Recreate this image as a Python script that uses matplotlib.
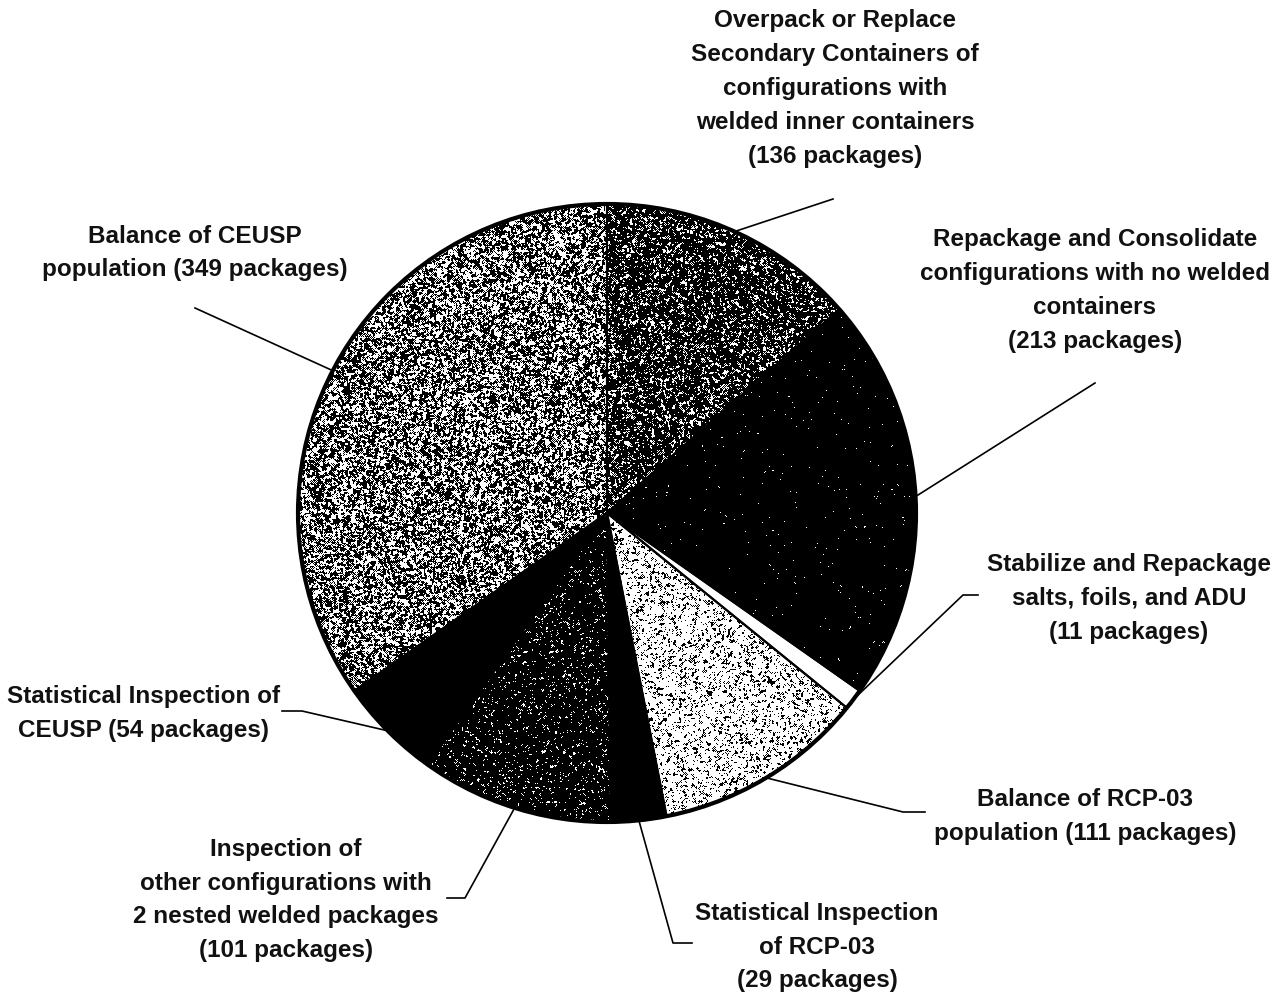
import numpy as np
import matplotlib
matplotlib.use("Agg")
import matplotlib.pyplot as plt

# ---- data ----
labels = [
    "Overpack or Replace\nSecondary Containers of\nconfigurations with\nwelded inner containers\n(136 packages)",
    "Repackage and Consolidate\nconfigurations with no welded\ncontainers\n(213 packages)",
    "Stabilize and Repackage\nsalts, foils, and ADU\n(11 packages)",
    "Balance of RCP-03\npopulation (111 packages)",
    "Statistical Inspection\nof RCP-03\n(29 packages)",
    "Inspection of\nother configurations with\n2 nested welded packages\n(101 packages)",
    "Statistical Inspection of\nCEUSP (54 packages)",
    "Balance of CEUSP\npopulation (349 packages)",
]
packages = [136, 213, 11, 111, 29, 101, 54, 349]

# ---- style ----
densities = [0.80, 0.995, 0.0, 0.20, 1.0, 0.93, 1.0, 0.55]   # fraction of black stipple
W, H = 1284, 999
def py(y):
    return H - y
cx, cy, R = 607, py(513), 309

# label block centres (pixel coords) and leader start points
label_pos = [(835, 88.5), (1095, 290.5), (1129, 598.5), (1085, 816.5),
             (817, 947), (286, 900), (144, 713.5), (195, 253)]
leader_text_pts = [
    [(833, 199)],
    [(1095, 383)],
    [(978, 595), (963, 595)],
    [(925, 812), (903, 812)],
    [(692, 943), (673, 943)],
    [(447, 898), (465, 898)],
    [(282, 711), (302, 711)],
    [(195, 308)],
]

plt.rcParams['font.family'] = ['Liberation Sans', 'DejaVu Sans']
fig = plt.figure(figsize=(W / 100, H / 100), dpi=100)
ax = fig.add_axes([0, 0, 1, 1])

wedges, _ = ax.pie(packages, startangle=90, counterclock=False,
                   center=(cx, cy), radius=R,
                   colors=['white'] * len(packages),
                   wedgeprops=dict(edgecolor='black', linewidth=1.5))

# stipple texture
rng = np.random.default_rng(7)
base = rng.random((H, W))
blur = (base + np.roll(base, 1, 0) + np.roll(base, 1, 1) + np.roll(base, -1, 0)
        + np.roll(base, -1, 1)) / 5.0
for w, d in zip(wedges, densities):
    if d <= 0:
        continue
    thr = np.quantile(blur, d) if d < 1 else 2.0
    tex = np.where(blur < thr, 0.0, 1.0)
    im = ax.imshow(tex, extent=(0, W, 0, H), origin='upper', cmap='gray',
                   vmin=0, vmax=1, interpolation='nearest', zorder=1.5)
    im.set_clip_path(w)
for w in wedges:
    w.set_zorder(2)
    w.set_facecolor('none')
outer = plt.Circle((cx, cy), R, fill=False, edgecolor='black', linewidth=3, zorder=3)
ax.add_patch(outer)

# leader lines and labels
total = sum(packages)
cum = 0
for i, (lab, v) in enumerate(zip(labels, packages)):
    mid = 90 - (cum + v / 2) / total * 360
    cum += v
    ex = cx + R * np.cos(np.radians(mid))
    ey = cy + R * np.sin(np.radians(mid))
    pts = [(x, py(y)) for x, y in leader_text_pts[i]] + [(ex, ey)]
    xs, ys = zip(*pts)
    ax.plot(xs, ys, color='black', linewidth=1.2, zorder=4)
    lx, ly = label_pos[i]
    ax.text(lx, py(ly), lab, ha='center', va='center', fontsize=17.5,
            fontweight='bold', linespacing=1.61, color='#111111')

ax.set_xlim(0, W)
ax.set_ylim(0, H)
ax.set_aspect('equal')
ax.axis('off')
fig.savefig('out.png', dpi=100)
